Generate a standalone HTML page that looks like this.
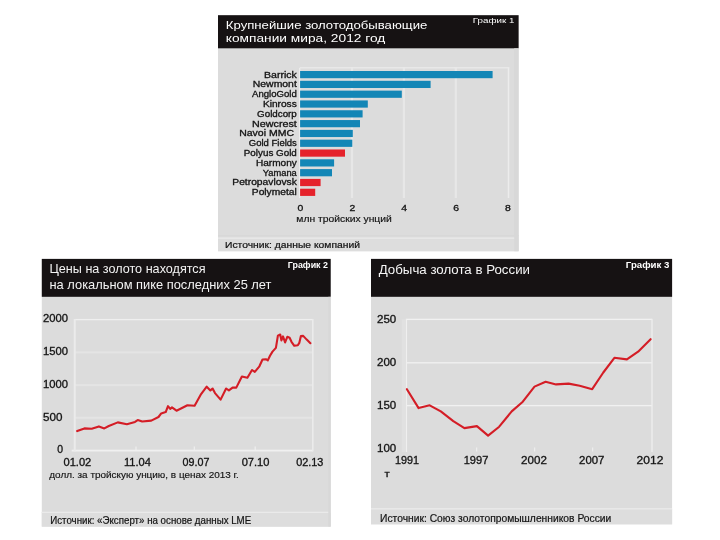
<!DOCTYPE html>
<html lang="ru"><head><meta charset="utf-8"><title>Золото</title>
<style>html,body{margin:0;padding:0;background:#fff;}body{width:720px;height:540px;overflow:hidden;}svg{display:block;font-family:"Liberation Sans",sans-serif;}</style>
</head><body>
<svg width="720" height="540" viewBox="0 0 720 540">
<rect width="720" height="540" fill="#ffffff"/>
<rect x="218" y="15.2" width="300.6" height="236.0" fill="#dcdcdc"/>
<rect x="218" y="15.2" width="300.6" height="33.1" fill="#161213"/>
<rect x="218" y="237.4" width="300.6" height="13.8" fill="#dddddd"/>
<rect x="218.0" y="237.45" width="300.6" height="1.3" fill="#eaeaea"/>
<rect x="218.0" y="235.20" width="300.6" height="1.2" fill="#d8d8d8"/>
<rect x="514.20" y="48.3" width="4.4" height="202.9" fill="#d8d8d8"/>
<text x="225.8" y="28.7" font-size="10.8" textLength="201.5" lengthAdjust="spacingAndGlyphs" fill="#fff">Крупнейшие золотодобывающие</text>
<text x="225.8" y="41.7" font-size="10.8" textLength="159.5" lengthAdjust="spacingAndGlyphs" fill="#fff">компании мира, 2012 год</text>
<text x="472.8" y="22.7" font-size="8.1" textLength="41.6" lengthAdjust="spacingAndGlyphs" fill="#fff">График 1</text>
<rect x="350.90" y="67.8" width="2.2" height="130.2" fill="#e7e7e7"/>
<rect x="402.80" y="67.8" width="2.2" height="130.2" fill="#e7e7e7"/>
<rect x="454.70" y="67.8" width="2.2" height="130.2" fill="#e7e7e7"/>
<rect x="507.70" y="67.8" width="1.6" height="130.2" fill="#ececec"/>
<rect x="299.00" y="67.8" width="1.4" height="130.2" fill="#ececec"/>
<rect x="300.1" y="67.20" width="209.2" height="1.2" fill="#ececec"/>
<rect x="300.1" y="71.00" width="192.5" height="7.2" fill="#1386b6"/>
<text x="296.8" y="77.5" font-size="8.4" textLength="32.8" lengthAdjust="spacingAndGlyphs" text-anchor="end" fill="#141414" stroke="#141414" stroke-width="0.3">Barrick</text>
<rect x="300.1" y="80.81" width="130.5" height="7.2" fill="#1386b6"/>
<text x="296.8" y="87.31" font-size="8.4" textLength="44" lengthAdjust="spacingAndGlyphs" text-anchor="end" fill="#141414" stroke="#141414" stroke-width="0.3">Newmont</text>
<rect x="300.1" y="90.62" width="101.7" height="7.2" fill="#1386b6"/>
<text x="296.8" y="97.12" font-size="8.4" textLength="44.7" lengthAdjust="spacingAndGlyphs" text-anchor="end" fill="#141414" stroke="#141414" stroke-width="0.3">AngloGold</text>
<rect x="300.1" y="100.43" width="67.7" height="7.2" fill="#1386b6"/>
<text x="296.8" y="106.93" font-size="8.4" textLength="33.9" lengthAdjust="spacingAndGlyphs" text-anchor="end" fill="#141414" stroke="#141414" stroke-width="0.3">Kinross</text>
<rect x="300.1" y="110.24" width="62.5" height="7.2" fill="#1386b6"/>
<text x="296.8" y="116.74" font-size="8.4" textLength="39.7" lengthAdjust="spacingAndGlyphs" text-anchor="end" fill="#141414" stroke="#141414" stroke-width="0.3">Goldcorp</text>
<rect x="300.1" y="120.05" width="59.9" height="7.2" fill="#1386b6"/>
<text x="296.8" y="126.55" font-size="8.4" textLength="44.7" lengthAdjust="spacingAndGlyphs" text-anchor="end" fill="#141414" stroke="#141414" stroke-width="0.3">Newcrest</text>
<rect x="300.1" y="129.86" width="52.7" height="7.2" fill="#1386b6"/>
<text x="294" y="136.36" font-size="8.4" textLength="54.8" lengthAdjust="spacingAndGlyphs" text-anchor="end" fill="#141414" stroke="#141414" stroke-width="0.3">Navoi MMC</text>
<rect x="300.1" y="139.67" width="52.2" height="7.2" fill="#1386b6"/>
<text x="296.8" y="146.17" font-size="8.4" textLength="48" lengthAdjust="spacingAndGlyphs" text-anchor="end" fill="#141414" stroke="#141414" stroke-width="0.3">Gold Fields</text>
<rect x="300.1" y="149.48" width="44.9" height="7.2" fill="#e5222b"/>
<text x="296.8" y="155.98" font-size="8.4" textLength="53" lengthAdjust="spacingAndGlyphs" text-anchor="end" fill="#141414" stroke="#141414" stroke-width="0.3">Polyus Gold</text>
<rect x="300.1" y="159.29" width="34.0" height="7.2" fill="#1386b6"/>
<text x="296.8" y="165.79" font-size="8.4" textLength="40.8" lengthAdjust="spacingAndGlyphs" text-anchor="end" fill="#141414" stroke="#141414" stroke-width="0.3">Harmony</text>
<rect x="300.1" y="169.10" width="31.9" height="7.2" fill="#1386b6"/>
<text x="296.8" y="175.6" font-size="8.4" textLength="34" lengthAdjust="spacingAndGlyphs" text-anchor="end" fill="#141414" stroke="#141414" stroke-width="0.3">Yamana</text>
<rect x="300.1" y="178.91" width="20.5" height="7.2" fill="#e5222b"/>
<text x="296.8" y="185.41" font-size="8.4" textLength="64.5" lengthAdjust="spacingAndGlyphs" text-anchor="end" fill="#141414" stroke="#141414" stroke-width="0.3">Petropavlovsk</text>
<rect x="300.1" y="188.72" width="15.1" height="7.2" fill="#e5222b"/>
<text x="296.8" y="195.22" font-size="8.4" textLength="45" lengthAdjust="spacingAndGlyphs" text-anchor="end" fill="#141414" stroke="#141414" stroke-width="0.3">Polymetal</text>
<text x="300.40000000000003" y="211" font-size="8.8" textLength="5.8" lengthAdjust="spacingAndGlyphs" text-anchor="middle" fill="#141414" stroke="#141414" stroke-width="0.3">0</text>
<text x="352.3" y="211" font-size="8.8" textLength="5.8" lengthAdjust="spacingAndGlyphs" text-anchor="middle" fill="#141414" stroke="#141414" stroke-width="0.3">2</text>
<text x="404.20000000000005" y="211" font-size="8.8" textLength="5.8" lengthAdjust="spacingAndGlyphs" text-anchor="middle" fill="#141414" stroke="#141414" stroke-width="0.3">4</text>
<text x="456.1" y="211" font-size="8.8" textLength="5.8" lengthAdjust="spacingAndGlyphs" text-anchor="middle" fill="#141414" stroke="#141414" stroke-width="0.3">6</text>
<text x="508.00000000000006" y="211" font-size="8.8" textLength="5.8" lengthAdjust="spacingAndGlyphs" text-anchor="middle" fill="#141414" stroke="#141414" stroke-width="0.3">8</text>
<text x="296.3" y="221.6" font-size="8.4" textLength="95.5" lengthAdjust="spacingAndGlyphs" fill="#141414" stroke="#141414" stroke-width="0.15">млн тройских унций</text>
<text x="225" y="248" font-size="8.6" textLength="135" lengthAdjust="spacingAndGlyphs" fill="#141414" stroke="#141414" stroke-width="0.2">Источник: данные компаний</text>
<rect x="41.8" y="258.9" width="288.9" height="267.7" fill="#dcdcdc"/>
<rect x="41.8" y="258.9" width="288.9" height="37.9" fill="#161213"/>
<rect x="41.8" y="512" width="288.9" height="14.6" fill="#dddddd"/>
<rect x="41.8" y="511.75" width="288.9" height="1.3" fill="#eaeaea"/>
<rect x="328.30" y="296.8" width="2.4" height="229.8" fill="#d8d8d8"/>
<text x="49.5" y="273.4" font-size="12.6" textLength="156" lengthAdjust="spacingAndGlyphs" fill="#f4f4f4">Цены на золото находятся</text>
<text x="49.5" y="289.3" font-size="12.6" textLength="222" lengthAdjust="spacingAndGlyphs" fill="#f4f4f4">на локальном пике последних 25 лет</text>
<text x="287.8" y="267.8" font-size="9.8" textLength="40.2" lengthAdjust="spacingAndGlyphs" font-weight="bold" fill="#fff">График 2</text>
<rect x="74.7" y="351.40" width="238.1" height="2.0" fill="#e4e4e4"/>
<rect x="74.7" y="384.10" width="238.1" height="2.0" fill="#e4e4e4"/>
<rect x="74.7" y="416.80" width="238.1" height="2.0" fill="#e4e4e4"/>
<rect x="74.7" y="318.95" width="238.1" height="1.3" fill="#efefef"/>
<rect x="71.7" y="449.70" width="241.1" height="1.8" fill="#f0f0f0"/>
<rect x="73.70" y="319.0" width="2.0" height="132.4" fill="#ebebeb"/>
<rect x="312.00" y="319.0" width="1.6" height="132.4" fill="#ebebeb"/>
<text x="43" y="322.40000000000003" font-size="10.2" textLength="25" lengthAdjust="spacingAndGlyphs" fill="#141414" stroke="#141414" stroke-width="0.3">2000</text>
<text x="43" y="355.2" font-size="10.2" textLength="25" lengthAdjust="spacingAndGlyphs" fill="#141414" stroke="#141414" stroke-width="0.3">1500</text>
<text x="43" y="388.40000000000003" font-size="10.2" textLength="25" lengthAdjust="spacingAndGlyphs" fill="#141414" stroke="#141414" stroke-width="0.3">1000</text>
<text x="43" y="421.1" font-size="10.2" textLength="19.4" lengthAdjust="spacingAndGlyphs" fill="#141414" stroke="#141414" stroke-width="0.3">500</text>
<text x="57.3" y="453.20000000000005" font-size="10.2" textLength="5.8" lengthAdjust="spacingAndGlyphs" fill="#141414" stroke="#141414" stroke-width="0.3">0</text>
<text x="63.5" y="465.8" font-size="10.3" textLength="27.8" lengthAdjust="spacingAndGlyphs" fill="#141414" stroke="#141414" stroke-width="0.3">01.02</text>
<text x="124" y="465.8" font-size="10.3" textLength="27" lengthAdjust="spacingAndGlyphs" fill="#141414" stroke="#141414" stroke-width="0.3">11.04</text>
<text x="182.6" y="465.8" font-size="10.3" textLength="26.9" lengthAdjust="spacingAndGlyphs" fill="#141414" stroke="#141414" stroke-width="0.3">09.07</text>
<text x="241.7" y="465.8" font-size="10.3" textLength="27.8" lengthAdjust="spacingAndGlyphs" fill="#141414" stroke="#141414" stroke-width="0.3">07.10</text>
<text x="296.2" y="465.8" font-size="10.3" textLength="27.2" lengthAdjust="spacingAndGlyphs" fill="#141414" stroke="#141414" stroke-width="0.3">02.13</text>
<rect x="135.40" y="446.5" width="1.2" height="3.5" fill="#efefef"/>
<rect x="193.70" y="446.5" width="1.2" height="3.5" fill="#efefef"/>
<rect x="254.60" y="446.5" width="1.2" height="3.5" fill="#efefef"/>
<text x="49.3" y="477.5" font-size="9.0" textLength="189.5" lengthAdjust="spacingAndGlyphs" fill="#141414" stroke="#141414" stroke-width="0.15">долл. за тройскую унцию, в ценах 2013 г.</text>
<text x="50.2" y="523.9" font-size="10.2" textLength="201" lengthAdjust="spacingAndGlyphs" fill="#141414" stroke="#141414" stroke-width="0.2">Источник: «Эксперт» на основе данных LME</text>
<polyline fill="none" stroke="#d41d26" stroke-width="2.1" stroke-linejoin="round" stroke-linecap="round" points="77.2,431.1 84.4,428.4 91.7,428.8 98.9,426.4 104.3,428.4 108.8,426 117.8,422.4 126.9,424.2 135,421.9 137.7,420.1 142.2,421.5 151.3,420.6 158.5,417 161.2,413.4 165.7,412.1 168,406.2 170.2,408.9 172,407.4 176.5,410.7 182,408 187.4,405.3 194.6,405.8 201.1,394.1 206.7,386.7 210.4,390.4 212.6,388.5 215,393.1 220.6,399.6 226.1,388.5 228.9,390.4 232.6,387.6 236.3,387.6 241.9,376.5 247.4,377.8 252,370 254.8,371.9 259.4,366.3 262.5,359.5 265.9,359.2 267.8,360.4 270,355.8 272.5,351.6 275.9,347.9 277.9,335.6 280.2,334.5 281.4,340.4 283,336.4 285.1,342.4 287.3,336.8 289.6,337.8 291.5,341.8 294.3,345.8 297.8,345.3 299.3,342.9 300.9,336.1 303.2,335.9 306.7,339.6 310.4,343.2"/>
<rect x="371" y="258.9" width="301.1" height="265.4" fill="#dcdcdc"/>
<rect x="371" y="258.9" width="301.1" height="37.9" fill="#161213"/>
<rect x="371" y="508.8" width="301.1" height="15.5" fill="#dddddd"/>
<rect x="371.0" y="508.15" width="301.1" height="1.3" fill="#eaeaea"/>
<text x="378.7" y="273.8" font-size="12.3" textLength="151.3" lengthAdjust="spacingAndGlyphs" fill="#f6f6f6">Добыча золота в России</text>
<text x="625.8" y="268.1" font-size="8.7" textLength="43.6" lengthAdjust="spacingAndGlyphs" font-weight="bold" fill="#fff">График 3</text>
<rect x="406.4" y="318.75" width="245.6" height="1.3" fill="#f1f1f1"/>
<rect x="406.4" y="362.15" width="245.6" height="1.3" fill="#f1f1f1"/>
<rect x="406.4" y="404.95" width="245.6" height="1.3" fill="#f1f1f1"/>
<rect x="405.75" y="318.8" width="1.3" height="133.2" fill="#efefef"/>
<rect x="401.65" y="319.4" width="3.5" height="132.6" fill="#e1e1e1"/>
<rect x="651.35" y="318.8" width="1.3" height="133.2" fill="#efefef"/>
<text x="377" y="322.9" font-size="10.4" textLength="19.2" lengthAdjust="spacingAndGlyphs" fill="#141414" stroke="#141414" stroke-width="0.3">250</text>
<text x="377" y="366.3" font-size="10.4" textLength="19.2" lengthAdjust="spacingAndGlyphs" fill="#141414" stroke="#141414" stroke-width="0.3">200</text>
<text x="377" y="409.1" font-size="10.4" textLength="19.2" lengthAdjust="spacingAndGlyphs" fill="#141414" stroke="#141414" stroke-width="0.3">150</text>
<text x="377" y="451.5" font-size="10.4" textLength="19.2" lengthAdjust="spacingAndGlyphs" fill="#141414" stroke="#141414" stroke-width="0.3">100</text>
<text x="395" y="464.2" font-size="10.4" textLength="24.1" lengthAdjust="spacingAndGlyphs" fill="#141414" stroke="#141414" stroke-width="0.3">1991</text>
<text x="463.7" y="464.2" font-size="10.4" textLength="24.7" lengthAdjust="spacingAndGlyphs" fill="#141414" stroke="#141414" stroke-width="0.3">1997</text>
<text x="521.1" y="464.2" font-size="10.4" textLength="25.8" lengthAdjust="spacingAndGlyphs" fill="#141414" stroke="#141414" stroke-width="0.3">2002</text>
<text x="579.1" y="464.2" font-size="10.4" textLength="25.3" lengthAdjust="spacingAndGlyphs" fill="#141414" stroke="#141414" stroke-width="0.3">2007</text>
<text x="636.6" y="464.2" font-size="10.4" textLength="26.8" lengthAdjust="spacingAndGlyphs" fill="#141414" stroke="#141414" stroke-width="0.3">2012</text>
<rect x="476.00" y="447.5" width="1.2" height="4.0" fill="#ededed"/>
<rect x="534.00" y="447.5" width="1.2" height="4.0" fill="#ededed"/>
<rect x="592.00" y="447.5" width="1.2" height="4.0" fill="#ededed"/>
<text x="384.6" y="476.5" font-size="9" textLength="5.2" lengthAdjust="spacingAndGlyphs" fill="#141414" stroke="#141414" stroke-width="0.3">т</text>
<text x="380" y="521.8" font-size="10.4" textLength="231.3" lengthAdjust="spacingAndGlyphs" fill="#141414" stroke="#141414" stroke-width="0.2">Источник: Союз золотопромышленников России</text>
<polyline fill="none" stroke="#d41d26" stroke-width="2.1" stroke-linejoin="round" stroke-linecap="round" points="406.9,389.2 418.6,408.1 429.7,405.3 440.8,411.4 453.3,421.1 464.4,428.1 476.9,426.1 488.1,435.6 499.2,426.7 511.7,411.4 522.8,401.7 534.5,386.6 545.6,381.7 556.1,384.4 568.6,383.6 579.7,385.8 592.2,389.2 603.3,372.5 614.4,357.8 626.9,359.4 638.1,351.7 650.6,339.2"/>
</svg></body></html>
